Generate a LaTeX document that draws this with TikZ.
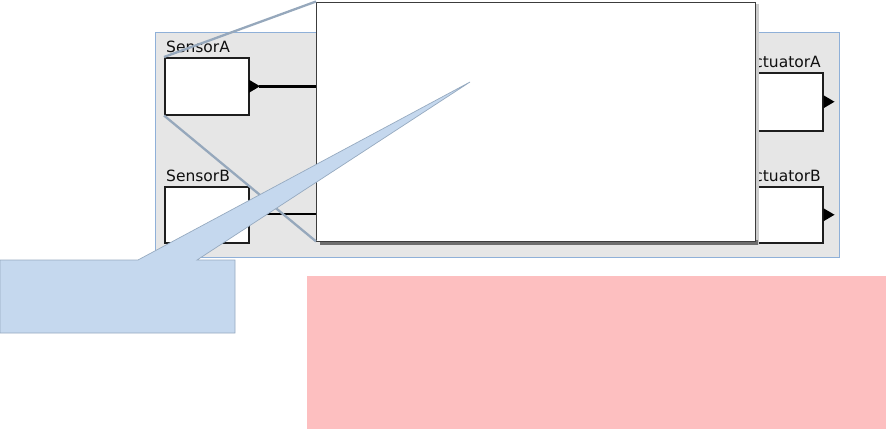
\documentclass[tikz,border=0pt]{standalone}
\usepackage{fontspec}
\setmainfont{DejaVu Sans}
\definecolor{pinknote}{RGB}{253,191,192}
\definecolor{panelborder}{RGB}{143,176,216}
\definecolor{panelfill}{RGB}{230,230,230}
\definecolor{boxline}{RGB}{30,30,30}
\definecolor{lbltext}{RGB}{15,15,15}
\definecolor{zoomgray}{RGB}{150,168,188}
\definecolor{calloutfill}{RGB}{197,216,238}
\definecolor{calloutline}{RGB}{150,170,192}
\definecolor{shadowlight}{RGB}{205,205,205}
\definecolor{shadowdark}{RGB}{110,110,110}
\definecolor{wbline}{RGB}{60,60,60}
\begin{document}
\begin{tikzpicture}[x=1pt,y=-1pt,
  panel/.style={draw=panelborder, fill=panelfill, line width=0.8pt},
  blockbox/.style={draw=boxline, fill=white, line width=1.5pt, anchor=north west, inner sep=0pt},
  lbl/.style={font=\fontsize{15.5}{18}\selectfont, inner sep=0pt, text=lbltext},
  wire/.style={line width=2.8pt, black},
  zoomline/.style={draw=zoomgray, line width=2.3pt},
  callout/.style={fill=calloutfill, draw=calloutline, line width=0.7pt}
]
\useasboundingbox (0,0) rectangle (886,429);

% pink note
\fill[pinknote] (307,276) rectangle (886,429);

% panel
\draw[panel] (155,32) rectangle (839,257);

% sensors
\node[lbl, anchor=base west] (lsa) at (166,52) {SensorA};
\node[blockbox, minimum width=84pt, minimum height=57pt] (sa) at (164,57) {};
\node[lbl, anchor=base west] (lsb) at (166,181) {SensorB};
\node[blockbox, minimum width=84pt, minimum height=56pt] (sb) at (164,186) {};

% middle block (mostly hidden)
\node[blockbox, minimum width=86pt, minimum height=56pt] (mid) at (369,187) {};

% actuators
\node[lbl, anchor=base east] (laa) at (821,67) {ActuatorA};
\node[blockbox, minimum width=84pt, minimum height=58pt] (aa) at (738,72) {};
\node[lbl, anchor=base east] (lab) at (821,181) {ActuatorB};
\node[blockbox, minimum width=84pt, minimum height=56pt] (ab) at (738,186) {};

% ports
\fill (sa.east) ++(-0.5,-6.5) -- ++(11,6.5) -- ++(-11,6.5) -- cycle;
\coordinate (sap) at ([xshift=9pt]sa.east);
\fill (aa.east) ++(0,-6.5) -- ++(11,6.5) -- ++(-11,6.5) -- cycle;
\fill (ab.east) ++(0,-6.5) -- ++(11,6.5) -- ++(-11,6.5) -- cycle;

% wires
\coordinate (sae) at (330,87);
\coordinate (sbe) at (330,214);
\draw[wire] (sap) -- (sap -| sae);
\draw[wire, line width=2.2pt] (sb.east |- sbe) -- (sbe);

% white box with shadow
\fill[shadowlight] (320,4) rectangle (759,245);
\fill[shadowdark] (320,240) rectangle (758,244.5);
\node[draw=wbline, fill=white, line width=0.9pt, anchor=north west, minimum width=439pt, minimum height=239pt, inner sep=0pt] (wb) at (316,1.5) {};

% zoom lines
\draw[zoomline] (sa.north west) -- (wb.north west);
\draw[zoomline] (sa.south west) -- (wb.south west);

% blue callout
\coordinate (tip) at (470,82);
\draw[callout] (0,260) -- (138,260) -- (tip) -- (197,260) -- (235,260) -- (235,333) -- (0,333) -- cycle;
\node[inner sep=0pt, minimum width=235pt, minimum height=73pt, anchor=north west] (bc) at (0,260) {};
\end{tikzpicture}
\end{document}
